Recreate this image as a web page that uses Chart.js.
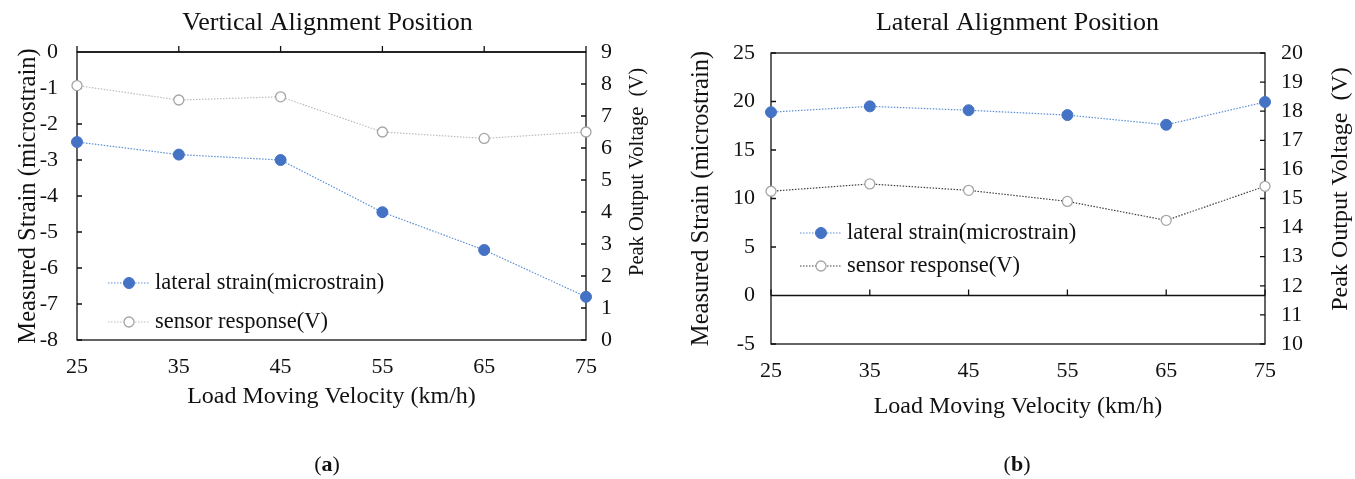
<!DOCTYPE html>
<html>
<head>
<meta charset="utf-8">
<script src="https://cdn.jsdelivr.net/npm/chart.js@4"></script>
<style>
  body { margin: 0; background: #fff; width: 1355px; height: 479px; position: relative; overflow: hidden; }
  .box { position: absolute; top: 0; height: 479px; }
  .cap { position: absolute; top: 451px; font: 22px 'Liberation Serif', serif; color: #111; transform: translateX(-50%); }
</style>
</head>
<body>
<div class="box" style="left:0;width:655px"><canvas id="chartA" width="655" height="479"></canvas></div>
<div class="box" style="left:680px;width:675px"><canvas id="chartB" width="675" height="479"></canvas></div>
<div class="cap" style="left:327px">(<b>a</b>)</div>
<div class="cap" style="left:1017px">(<b>b</b>)</div>
<script>
const velocities = ['25', '35', '45', '55', '65', '75'];

// (a) vertical alignment
const verticalStrain = [-2.5, -2.85, -3.0, -4.45, -5.5, -6.8];
const verticalVoltage = [7.95, 7.5, 7.6, 6.5, 6.3, 6.5];

// (b) lateral alignment
const lateralStrain = [18.9, 19.5, 19.1, 18.6, 17.6, 19.95];
const lateralVoltage = [15.25, 15.5, 15.28, 14.9, 14.25, 15.42];

const serif = "'Liberation Serif', 'Times New Roman', serif";
Chart.defaults.font.family = serif;
Chart.defaults.color = '#111';

// frame, axis ticks, legend inside the plot, right axis title read bottom-up
const framePlugin = {
  id: 'frame',
  beforeDatasetsDraw(chart, args, opts) {
    const { ctx, chartArea: a, scales } = chart;
    ctx.save();
    ctx.strokeStyle = '#111';
    ctx.lineWidth = 1.3;
    ctx.strokeRect(a.left, a.top, a.right - a.left, a.bottom - a.top);
    // x axis line where strain = 0, ticks pointing up
    const y0 = scales.y.getPixelForValue(0);
    ctx.beginPath();
    ctx.moveTo(a.left, y0); ctx.lineTo(a.right, y0);
    velocities.forEach((v, i) => {
      const x = scales.x.getPixelForValue(i);
      ctx.moveTo(x, y0); ctx.lineTo(x, y0 - 6);
    });
    // y ticks pointing inward
    scales.y.ticks.forEach(t => {
      const y = scales.y.getPixelForValue(t.value);
      ctx.moveTo(a.left, y); ctx.lineTo(a.left + 5, y);
    });
    scales.y1.ticks.forEach(t => {
      const y = scales.y1.getPixelForValue(t.value);
      ctx.moveTo(a.right, y); ctx.lineTo(a.right - 5, y);
    });
    ctx.stroke();
    ctx.restore();
  },
  afterDraw(chart, args, opts) {
    const { ctx } = chart;
    ctx.save();
    ctx.font = '22.5px ' + serif;
    ctx.fillStyle = '#111';
    ctx.textBaseline = 'middle';
    chart.data.datasets.forEach((ds, i) => {
      const y = opts.legendY + i * opts.legendGap;
      const x = opts.legendX;
      ctx.strokeStyle = ds.borderColor;
      ctx.lineWidth = ds.borderWidth;
      ctx.setLineDash(ds.borderDash);
      ctx.beginPath(); ctx.moveTo(x, y); ctx.lineTo(x + 42, y); ctx.stroke();
      ctx.setLineDash([]);
      ctx.beginPath(); ctx.arc(x + 21, y, ds.pointRadius, 0, Math.PI * 2);
      ctx.fillStyle = ds.pointBackgroundColor; ctx.fill();
      ctx.strokeStyle = ds.pointBorderColor; ctx.lineWidth = ds.pointBorderWidth; ctx.stroke();
      ctx.fillStyle = '#111';
      ctx.textAlign = 'left';
      ctx.fillText(ds.label, x + 47, y);
    });
    ctx.font = opts.rightTitleSize + 'px ' + serif;
    ctx.translate(opts.rightTitleX, opts.rightTitleY);
    ctx.rotate(-Math.PI / 2);
    ctx.textAlign = 'center';
    ctx.fillText('Peak Output Voltage  (V)', 0, 0);
    ctx.restore();
  }
};

function makeChart(id, cfg) {
  const tickFont = { size: 22 };
  return new Chart(document.getElementById(id), {
    type: 'line',
    data: {
      labels: velocities,
      datasets: [{
        label: 'lateral strain(microstrain)',
        data: cfg.strain,
        yAxisID: 'y',
        borderColor: '#5B8FD6',
        borderWidth: 1.2,
        borderDash: [1.5, 1.5],
        pointRadius: 5.5,
        pointBackgroundColor: '#4472C4',
        pointBorderColor: '#4472C4',
        pointBorderWidth: 1,
        tension: 0
      }, {
        label: 'sensor response(V)',
        data: cfg.voltage,
        yAxisID: 'y1',
        borderColor: cfg.voltageLine,
        borderWidth: 1.2,
        borderDash: [1.5, 1.5],
        pointRadius: 5,
        pointBackgroundColor: '#fff',
        pointBorderColor: '#A5A5A5',
        pointBorderWidth: 1.3,
        tension: 0
      }]
    },
    options: {
      responsive: false,
      animation: false,
      clip: false,
      layout: { padding: { left: 0, right: 0, top: 0, bottom: cfg.padBottom } },
      scales: {
        x: {
          offset: false,
          grid: { display: false, drawTicks: false },
          border: { display: false },
          ticks: { font: tickFont, padding: cfg.xTickPad, maxRotation: 0, autoSkip: false },
          title: { display: true, text: 'Load Moving Velocity (km/h)', font: { size: 24 }, padding: 0 },
          afterFit: s => { s.height = cfg.xHeight; }
        },
        y: {
          position: 'left',
          min: cfg.strainMin, max: cfg.strainMax,
          ticks: { stepSize: cfg.strainStep, font: tickFont, padding: cfg.yTickPad, autoSkip: false },
          grid: { display: false, drawTicks: false },
          border: { display: false },
          title: { display: true, text: 'Measured Strain (microstrain)', font: { size: 24.5 }, padding: { top: cfg.yTitlePad } },
          afterFit: s => { s.width = cfg.leftWidth; }
        },
        y1: {
          position: 'right',
          min: cfg.voltMin, max: cfg.voltMax,
          ticks: { stepSize: 1, font: tickFont, padding: cfg.y1TickPad, autoSkip: false },
          grid: { display: false, drawTicks: false },
          border: { display: false },
          afterFit: s => { s.width = cfg.rightWidth; }
        }
      },
      plugins: {
        legend: { display: false },
        tooltip: { enabled: false },
        title: {
          display: true,
          text: cfg.title,
          font: { size: 26, weight: 'normal' },
          padding: { top: 8, bottom: cfg.titlePadBottom }
        },
        frame: {
          legendX: cfg.legendX, legendY: cfg.legendY, legendGap: cfg.legendGap,
          rightTitleX: cfg.rightTitleX, rightTitleY: cfg.rightTitleY, rightTitleSize: cfg.rightTitleSize
        }
      }
    },
    plugins: [framePlugin]
  });
}

makeChart('chartA', {
  title: 'Vertical Alignment Position',
  strain: verticalStrain, voltage: verticalVoltage, voltageLine: '#BDBDBD',
  strainMin: -8, strainMax: 0, strainStep: 1,
  voltMin: 0, voltMax: 9,
  leftWidth: 77, rightWidth: 69, xHeight: 71, padBottom: 68, titlePadBottom: 12.8,
  xTickPad: 14, yTickPad: 19, y1TickPad: 15, yTitlePad: 13.5,
  legendX: 108, legendY: 283, legendGap: 39,
  rightTitleX: 638, rightTitleY: 172, rightTitleSize: 20.5
});

makeChart('chartB', {
  title: 'Lateral Alignment Position',
  strain: lateralStrain, voltage: lateralVoltage, voltageLine: '#404040',
  strainMin: -5, strainMax: 25, strainStep: 5,
  voltMin: 10, voltMax: 20,
  leftWidth: 91, rightWidth: 90, xHeight: 77, padBottom: 58, titlePadBottom: 13.8,
  xTickPad: 14, yTickPad: 16, y1TickPad: 16, yTitlePad: 6.5,
  legendX: 120, legendY: 233, legendGap: 33,
  rightTitleX: 661, rightTitleY: 189, rightTitleSize: 24
});
</script>
</body>
</html>
